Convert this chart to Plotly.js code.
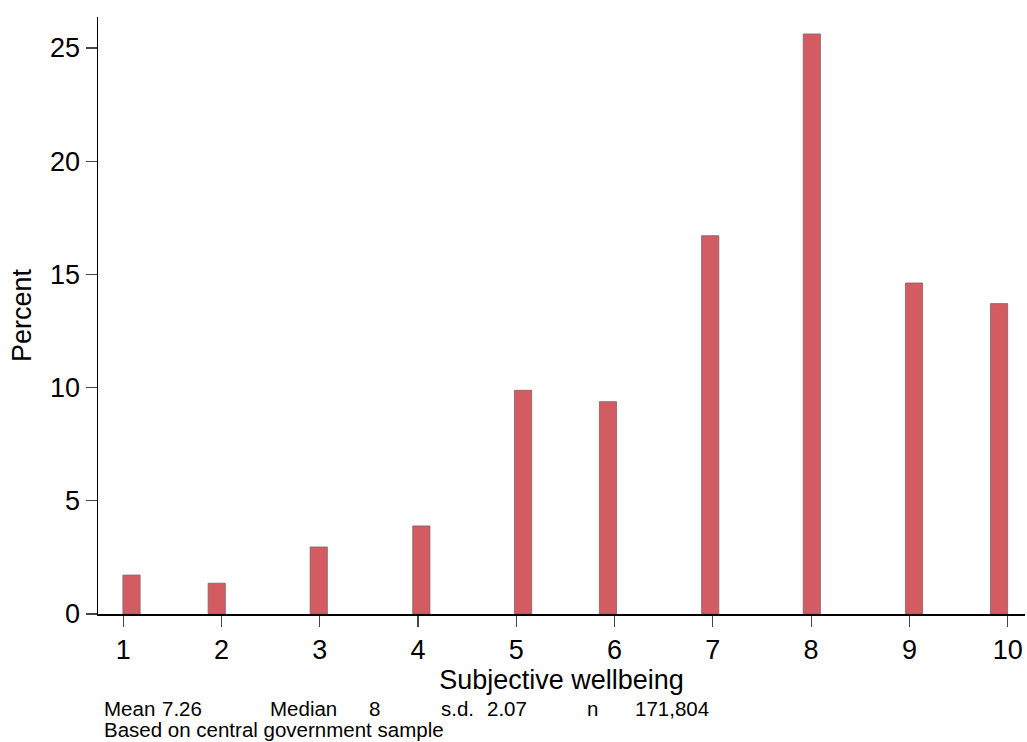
<!DOCTYPE html>
<html>
<head>
<meta charset="utf-8">
<script src="https://cdn.plot.ly/plotly-3.0.1.min.js"></script>
<style>html,body{margin:0;padding:0;background:#fff;}#chart{width:1027px;height:742px;}</style>
</head>
<body>
<div id="chart"></div>
<script>
// Data
const binCenters = [1.085, 1.952, 2.99, 4.034, 5.069, 5.933, 6.973, 8.007, 9.047, 9.912];
const percents   = [1.72, 1.36, 2.96, 3.89, 9.88, 9.38, 16.71, 25.62, 14.62, 13.71];
const xTickVals  = [1, 2, 3, 4, 5, 6, 7, 8, 9, 10];
const yTickVals  = [0, 5, 10, 15, 20, 25];
const statLabels = ["Mean", "7.26", "Median", "8", "s.d.", "2.07", "n", "171,804"];
const noteText   = "Based on central government sample";

const W = 1027, H = 742;
const L = 97.5, R = 1025, T = 17, B = 614;
const px = v => (v - L) / (R - L);
const py = v => (B - v) / (B - T);

const font = "Liberation Sans, Arial, Helvetica, sans-serif";

const statX = [103, 161, 269, 368, 440, 486, 586, 634];
const annotations = statLabels.map((t, i) => ({
  text: t, xref: "paper", yref: "paper", x: px(statX[i]), y: py(708.5),
  xanchor: "left", yanchor: "middle", showarrow: false, borderpad: 0,
  font: {family: font, size: 20.5, color: "#000"}
}));
annotations.push({
  text: noteText, xref: "paper", yref: "paper", x: px(103), y: py(729),
  xanchor: "left", yanchor: "middle", showarrow: false, borderpad: 0,
  font: {family: font, size: 20.5, color: "#000"}
});

const trace = {
  type: "bar",
  x: binCenters,
  y: percents,
  width: binCenters.map(() => 0.175),
  marker: {color: "#d35c63", line: {color: "#7d6264", width: 0.8}},
  hoverinfo: "x+y"
};

const layout = {
  width: W, height: H,
  margin: {l: L, r: W - R, t: T, b: H - B, pad: 0},
  paper_bgcolor: "#fff", plot_bgcolor: "#fff",
  showlegend: false,
  font: {family: font, color: "#000"},
  xaxis: {
    range: [0.744, 10.176],
    tickvals: xTickVals,
    ticktext: xTickVals.map(String),
    ticks: "outside", ticklen: 11, tickwidth: 1.2, tickcolor: "#444",
    tickfont: {family: font, size: 27, color: "#000"},
    showline: true, linecolor: "#000", linewidth: 1.5,
    showgrid: false, zeroline: false,
    title: {text: "Subjective wellbeing", font: {family: font, size: 27, color: "#000"}, standoff: 6}
  },
  yaxis: {
    range: [0, (B - T) / 22.64],
    tickvals: yTickVals,
    ticks: "outside", ticklen: 11, tickwidth: 1.2, tickcolor: "#444",
    tickfont: {family: font, size: 27, color: "#000"},
    showline: true, linecolor: "#000", linewidth: 1.5,
    showgrid: false, zeroline: false,
    title: {text: "Percent", font: {family: font, size: 27, color: "#000"}, standoff: 10}
  },
  annotations: annotations
};

Plotly.newPlot("chart", [trace], layout, {displayModeBar: false, staticPlot: true});
</script>
</body>
</html>
